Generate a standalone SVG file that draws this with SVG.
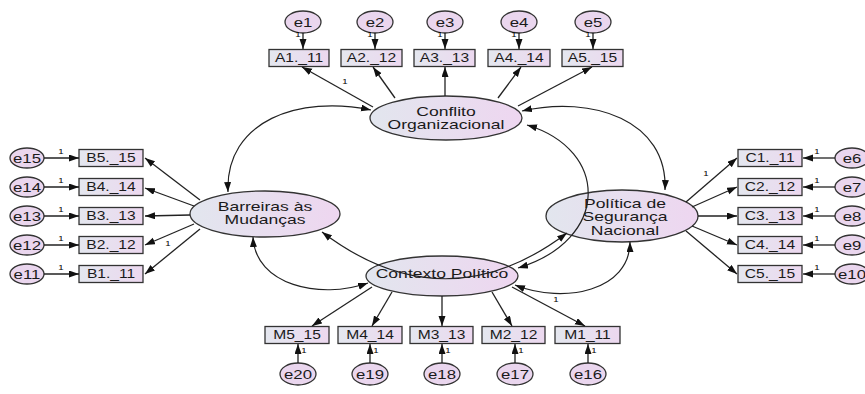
<svg xmlns="http://www.w3.org/2000/svg" width="865" height="394" viewBox="0 0 865 394">
<defs>
<linearGradient id="gl" x1="0" y1="0" x2="1" y2="0">
<stop offset="0" stop-color="#e2e6ee"/>
<stop offset="1" stop-color="#eed6f0"/>
</linearGradient>
<linearGradient id="gb" x1="0" y1="0" x2="1" y2="0">
<stop offset="0" stop-color="#e4e7ef"/>
<stop offset="1" stop-color="#ecd8ef"/>
</linearGradient>
<marker id="ah" markerUnits="userSpaceOnUse" markerWidth="11" markerHeight="8" refX="10" refY="3.5" orient="auto-start-reverse">
<path d="M0,0 L10,3.5 L0,7 z" fill="#111"/>
</marker>
<style>
.lat{fill:url(#gl);stroke:#333;stroke-width:1.3}
.box{fill:url(#gb);stroke:#333;stroke-width:1.3}
.err{fill:#ead6ee;stroke:#333;stroke-width:1.3}
text{font-family:"Liberation Sans",Arial,sans-serif;fill:#1a1a1a;text-anchor:middle}
.tl{font-size:13px}
.tb{font-size:12px}
.te{font-size:12px}
.t1{font-size:8px;fill:#000}
.c{fill:none;stroke:#222;stroke-width:1.3;marker-end:url(#ah)}
.d{fill:none;stroke:#222;stroke-width:1.2;marker-start:url(#ah);marker-end:url(#ah)}
</style>
</defs>

<g id="Conflito">
<ellipse class="lat" cx="446" cy="118" rx="76" ry="22"/>
<text class="tl" transform="translate(446,116) scale(1.35,1)">Conflito</text>
<text class="tl" transform="translate(446,129) scale(1.35,1)">Organizacional</text>
</g>
<g id="Barreiras">
<ellipse class="lat" cx="265" cy="214" rx="75" ry="23"/>
<text class="tl" transform="translate(265,211) scale(1.35,1)">Barreiras às</text>
<text class="tl" transform="translate(265,224) scale(1.35,1)">Mudanças</text>
</g>
<g id="Politica">
<ellipse class="lat" cx="622" cy="216" rx="76" ry="26"/>
<text class="tl" transform="translate(625,208) scale(1.35,1)">Política de</text>
<text class="tl" transform="translate(625,221) scale(1.35,1)">Segurança</text>
<text class="tl" transform="translate(625,235) scale(1.35,1)">Nacional</text>
</g>
<g id="Contexto">
<ellipse class="lat" cx="442" cy="276" rx="76" ry="20"/>
<text class="tl" transform="translate(442,278) scale(1.35,1)">Contexto Político</text>
</g>

<g id="A1"><rect class="box" x="269" y="49.5" width="60" height="17"/><text class="tb" transform="translate(299,62) scale(1.3,1)">A1._11</text></g>
<g id="A2"><rect class="box" x="341" y="49.5" width="61" height="17"/><text class="tb" transform="translate(371.5,62) scale(1.3,1)">A2._12</text></g>
<g id="A3"><rect class="box" x="414" y="49.5" width="61" height="17"/><text class="tb" transform="translate(444.5,62) scale(1.3,1)">A3._13</text></g>
<g id="A4"><rect class="box" x="488" y="49.5" width="62" height="17"/><text class="tb" transform="translate(519,62) scale(1.3,1)">A4._14</text></g>
<g id="A5"><rect class="box" x="562" y="49.5" width="61" height="17"/><text class="tb" transform="translate(592.5,62) scale(1.3,1)">A5._15</text></g>

<g id="e1"><ellipse class="err" cx="303" cy="22" rx="18" ry="11"/><text class="te" transform="translate(303,26.5) scale(1.4,1)">e1</text></g>
<g id="e2"><ellipse class="err" cx="375" cy="22" rx="18" ry="11"/><text class="te" transform="translate(375,26.5) scale(1.4,1)">e2</text></g>
<g id="e3"><ellipse class="err" cx="445" cy="22" rx="18" ry="11"/><text class="te" transform="translate(445,26.5) scale(1.4,1)">e3</text></g>
<g id="e4"><ellipse class="err" cx="519" cy="22" rx="18" ry="11"/><text class="te" transform="translate(519,26.5) scale(1.4,1)">e4</text></g>
<g id="e5"><ellipse class="err" cx="593" cy="22" rx="18" ry="11"/><text class="te" transform="translate(593,26.5) scale(1.4,1)">e5</text></g>

<g id="B5"><rect class="box" x="79" y="149.5" width="64" height="17"/><text class="tb" transform="translate(111,162) scale(1.3,1)">B5._15</text></g>
<g id="B4"><rect class="box" x="79" y="178.5" width="64" height="17"/><text class="tb" transform="translate(111,191) scale(1.3,1)">B4._14</text></g>
<g id="B3"><rect class="box" x="79" y="207.5" width="64" height="17"/><text class="tb" transform="translate(111,220) scale(1.3,1)">B3._13</text></g>
<g id="B2"><rect class="box" x="79" y="236.5" width="64" height="17"/><text class="tb" transform="translate(111,249) scale(1.3,1)">B2._12</text></g>
<g id="B1"><rect class="box" x="79" y="265.5" width="64" height="17"/><text class="tb" transform="translate(111,278) scale(1.3,1)">B1._11</text></g>

<g id="e15"><ellipse class="err" cx="27" cy="158" rx="17" ry="10"/><text class="te" transform="translate(27,162.5) scale(1.4,1)">e15</text></g>
<g id="e14"><ellipse class="err" cx="27" cy="187" rx="17" ry="10"/><text class="te" transform="translate(27,191.5) scale(1.4,1)">e14</text></g>
<g id="e13"><ellipse class="err" cx="27" cy="216" rx="17" ry="10"/><text class="te" transform="translate(27,220.5) scale(1.4,1)">e13</text></g>
<g id="e12"><ellipse class="err" cx="27" cy="245" rx="17" ry="10"/><text class="te" transform="translate(27,249.5) scale(1.4,1)">e12</text></g>
<g id="e11"><ellipse class="err" cx="27" cy="274" rx="17" ry="10"/><text class="te" transform="translate(27,278.5) scale(1.4,1)">e11</text></g>

<g id="C1"><rect class="box" x="738" y="149.5" width="64" height="17"/><text class="tb" transform="translate(770,162) scale(1.3,1)">C1._11</text></g>
<g id="C2"><rect class="box" x="738" y="178.5" width="64" height="17"/><text class="tb" transform="translate(770,191) scale(1.3,1)">C2._12</text></g>
<g id="C3"><rect class="box" x="738" y="207.5" width="64" height="17"/><text class="tb" transform="translate(770,220) scale(1.3,1)">C3._13</text></g>
<g id="C4"><rect class="box" x="738" y="236.5" width="64" height="17"/><text class="tb" transform="translate(770,249) scale(1.3,1)">C4._14</text></g>
<g id="C5"><rect class="box" x="738" y="265.5" width="64" height="17"/><text class="tb" transform="translate(770,278) scale(1.3,1)">C5._15</text></g>

<g id="e6"><ellipse class="err" cx="852" cy="158" rx="17" ry="10"/><text class="te" transform="translate(852,162.5) scale(1.4,1)">e6</text></g>
<g id="e7"><ellipse class="err" cx="852" cy="187" rx="17" ry="10"/><text class="te" transform="translate(852,191.5) scale(1.4,1)">e7</text></g>
<g id="e8"><ellipse class="err" cx="852" cy="216" rx="17" ry="10"/><text class="te" transform="translate(852,220.5) scale(1.4,1)">e8</text></g>
<g id="e9"><ellipse class="err" cx="852" cy="245" rx="17" ry="10"/><text class="te" transform="translate(852,249.5) scale(1.4,1)">e9</text></g>
<g id="e10"><ellipse class="err" cx="852" cy="274" rx="17" ry="10"/><text class="te" transform="translate(852,278.5) scale(1.4,1)">e10</text></g>

<g id="M5"><rect class="box" x="265" y="326.5" width="64" height="17"/><text class="tb" transform="translate(297,339) scale(1.3,1)">M5_15</text></g>
<g id="M4"><rect class="box" x="338" y="326.5" width="64" height="17"/><text class="tb" transform="translate(370,339) scale(1.3,1)">M4_14</text></g>
<g id="M3"><rect class="box" x="410" y="326.5" width="63" height="17"/><text class="tb" transform="translate(441.5,339) scale(1.3,1)">M3_13</text></g>
<g id="M2"><rect class="box" x="482" y="326.5" width="63" height="17"/><text class="tb" transform="translate(513.5,339) scale(1.3,1)">M2_12</text></g>
<g id="M1"><rect class="box" x="555" y="326.5" width="65" height="17"/><text class="tb" transform="translate(587.5,339) scale(1.3,1)">M1_11</text></g>

<g id="e20"><ellipse class="err" cx="298" cy="374" rx="18" ry="11"/><text class="te" transform="translate(298,378.5) scale(1.4,1)">e20</text></g>
<g id="e19"><ellipse class="err" cx="370" cy="374" rx="18" ry="11"/><text class="te" transform="translate(370,378.5) scale(1.4,1)">e19</text></g>
<g id="e18"><ellipse class="err" cx="442" cy="374" rx="18" ry="11"/><text class="te" transform="translate(442,378.5) scale(1.4,1)">e18</text></g>
<g id="e17"><ellipse class="err" cx="515" cy="374" rx="18" ry="11"/><text class="te" transform="translate(515,378.5) scale(1.4,1)">e17</text></g>
<g id="e16"><ellipse class="err" cx="588" cy="374" rx="18" ry="11"/><text class="te" transform="translate(588,378.5) scale(1.4,1)">e16</text></g>

<g id="connectors">
<path class="c" d="M303,33 L303,49"/>
<path class="c" d="M375,33 L375,49"/>
<path class="c" d="M445,33 L445,49"/>
<path class="c" d="M519,33 L519,49"/>
<path class="c" d="M593,33 L593,49"/>
<path class="c" d="M373,107 L302,67"/>
<path class="c" d="M395,98 L373,67"/>
<path class="c" d="M445,96 L445,67"/>
<path class="c" d="M498,98 L521,67"/>
<path class="c" d="M518,106 L592,67"/>
<path class="c" d="M44,158 L79,158"/>
<path class="c" d="M44,187 L79,187"/>
<path class="c" d="M44,216 L79,216"/>
<path class="c" d="M44,245 L79,245"/>
<path class="c" d="M44,274 L79,274"/>
<path class="c" d="M200,200 L145,158"/>
<path class="c" d="M194,206 L145,188"/>
<path class="c" d="M190,215 L145,216"/>
<path class="c" d="M194,224 L145,245"/>
<path class="c" d="M200,229 L145,274"/>
<path class="c" d="M835,158 L803,158"/>
<path class="c" d="M835,187 L803,187"/>
<path class="c" d="M835,216 L803,216"/>
<path class="c" d="M835,245 L803,245"/>
<path class="c" d="M835,274 L803,274"/>
<path class="c" d="M686,202 L737,158"/>
<path class="c" d="M692,207 L737,187"/>
<path class="c" d="M698,216 L737,216"/>
<path class="c" d="M692,226 L737,245"/>
<path class="c" d="M686,231 L737,274"/>
<path class="c" d="M298,363 L298,344"/>
<path class="c" d="M370,363 L370,344"/>
<path class="c" d="M442,363 L442,344"/>
<path class="c" d="M515,363 L515,344"/>
<path class="c" d="M588,363 L588,344"/>
<path class="c" d="M372,287 L312,326"/>
<path class="c" d="M392,292 L372,326"/>
<path class="c" d="M442,296 L442,326"/>
<path class="c" d="M492,292 L512,326"/>
<path class="c" d="M512,287 L585,326"/>
<path class="d" d="M371,110 C300,95 225,120 228,192"/>
<path class="d" d="M522,111 C592,95 668,120 665,190"/>
<path class="d" d="M253,237 C255,285 320,300 368,283"/>
<path class="d" d="M630,242 C630,290 565,305 515,285"/>
<path class="d" d="M527,125 C610,150 610,240 518,268"/>
<path class="d" d="M322,232 Q445,325 567,233"/>
<text class="t1" transform="translate(298,37) scale(1.2,1)">1</text>
<text class="t1" transform="translate(370,37) scale(1.2,1)">1</text>
<text class="t1" transform="translate(440,37) scale(1.2,1)">1</text>
<text class="t1" transform="translate(514,37) scale(1.2,1)">1</text>
<text class="t1" transform="translate(588,37) scale(1.2,1)">1</text>
<text class="t1" transform="translate(345,84) scale(1.2,1)">1</text>
<text class="t1" transform="translate(61,154) scale(1.2,1)">1</text>
<text class="t1" transform="translate(61,183) scale(1.2,1)">1</text>
<text class="t1" transform="translate(61,212) scale(1.2,1)">1</text>
<text class="t1" transform="translate(61,241) scale(1.2,1)">1</text>
<text class="t1" transform="translate(61,270) scale(1.2,1)">1</text>
<text class="t1" transform="translate(168,246) scale(1.2,1)">1</text>
<text class="t1" transform="translate(817,154) scale(1.2,1)">1</text>
<text class="t1" transform="translate(817,183) scale(1.2,1)">1</text>
<text class="t1" transform="translate(817,212) scale(1.2,1)">1</text>
<text class="t1" transform="translate(817,241) scale(1.2,1)">1</text>
<text class="t1" transform="translate(817,270) scale(1.2,1)">1</text>
<text class="t1" transform="translate(706,176) scale(1.2,1)">1</text>
<text class="t1" transform="translate(304,353) scale(1.2,1)">1</text>
<text class="t1" transform="translate(376,353) scale(1.2,1)">1</text>
<text class="t1" transform="translate(448,353) scale(1.2,1)">1</text>
<text class="t1" transform="translate(521,353) scale(1.2,1)">1</text>
<text class="t1" transform="translate(594,353) scale(1.2,1)">1</text>
<text class="t1" transform="translate(556,302) scale(1.2,1)">1</text>
</g>
</svg>
